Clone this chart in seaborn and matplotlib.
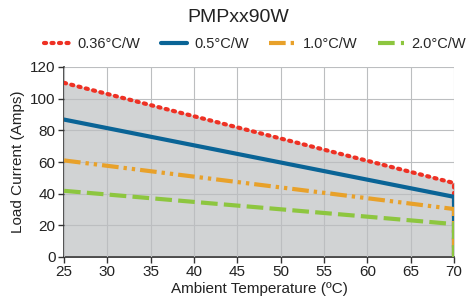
import matplotlib
matplotlib.use("Agg")
import matplotlib.pyplot as plt
import seaborn as sns
import pandas as pd

temps = [25, 70, 70]
r036 = [110, 46.7, 0]
r05 = [86.8, 38, 0]
r10 = [61, 30.3, 0]
r20 = [41.8, 20.8, 0]
labels = ["0.36°C/W", "0.5°C/W", "1.0°C/W", "2.0°C/W"]
colors = ["#ee3124", "#0a6496", "#e8a12a", "#8dc63f"]

sns.set_style("white")
plt.rcParams['font.family'] = ['Liberation Sans', 'DejaVu Sans']

fig = plt.figure(figsize=(4.77, 3.07), dpi=100)
ax = fig.add_axes([64/477, 50/307, 390/477, 190/307])
ax.set_facecolor("white")

ax.fill_between(temps, r036, 0, color="#d1d3d4", zorder=0)

styles = [(0, (0.5, 1.3)), "-", (0, (4, 1.2, 0.8, 1.2, 0.8, 1.2)), (0, (4, 1.5))]
handles = []
for lab, vals, col, ls in zip(labels, [r036, r05, r10, r20], colors, styles):
    sub = pd.DataFrame({"temp": temps, "amps": vals})
    n = len(ax.lines)
    sns.lineplot(data=sub, x="temp", y="amps", sort=False, estimator=None,
                 color=col, lw=3, ax=ax, legend=False, zorder=3)
    line = ax.lines[n]
    line.set_linestyle(ls)
    line.set_dash_capstyle("round" if lab == "0.36°C/W" else "butt")
    handles.append(line)

ax.set_xlim(25, 70)
ax.set_ylim(0, 120)
ax.set_xticks(range(25, 71, 5))
ax.set_yticks(range(0, 121, 20))
ax.grid(True, color="#bcbec0", lw=0.8, zorder=1)
ax.set_axisbelow(False)
for s in ["top", "right"]:
    ax.spines[s].set_visible(False)
for s in ["left", "bottom"]:
    ax.spines[s].set_color("#333333")
    ax.spines[s].set_linewidth(1.2)
ax.tick_params(axis="both", which="both", direction="out", length=4, width=1, pad=2,
               color="#333333", labelsize=11, labelcolor="#222222", left=True, bottom=True)
ax.set_xlabel("Ambient Temperature (ºC)", fontsize=11, color="#222222", labelpad=2)
ax.set_ylabel("Load Current (Amps)", fontsize=11, color="#222222", labelpad=4)
fig.text(0.5, 1 - 17/307, "PMPxx90W", ha="center", va="center", fontsize=14, color="#222222")

ax.legend(handles, labels, loc="center", bbox_to_anchor=(0.49, 1 + 23/190), ncol=4,
          frameon=False, fontsize=10.5, handlelength=1.8, columnspacing=1.4,
          handletextpad=0.5, borderaxespad=0)

fig.savefig("out.png", dpi=100)
